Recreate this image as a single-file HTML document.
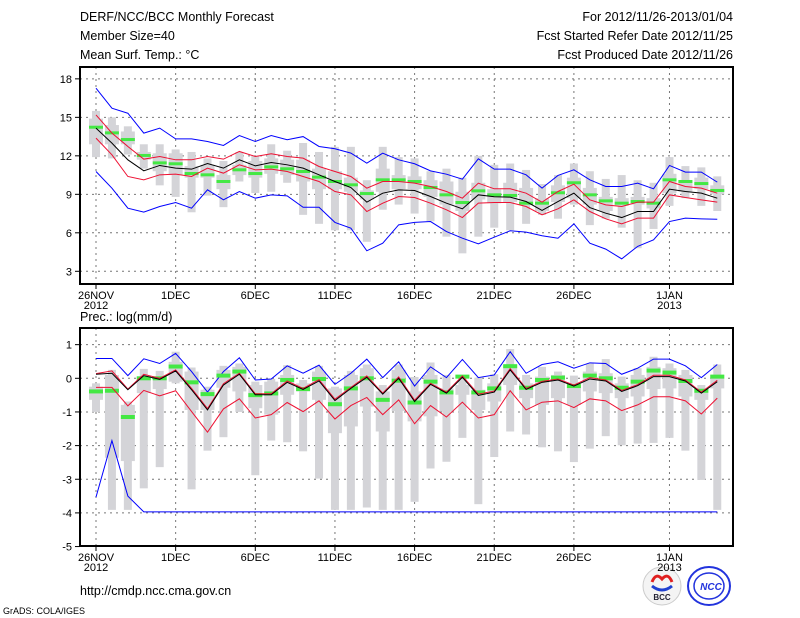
<!DOCTYPE html>
<html><head><meta charset="utf-8"><style>
body{margin:0;background:#fff;}
svg{display:block;font-family:"Liberation Sans",sans-serif;}
</style></head><body>
<svg id="c" width="800" height="618" xmlns="http://www.w3.org/2000/svg">
<g font-size="12.5" fill="#000">
<text x="80" y="21">DERF/NCC/BCC Monthly Forecast</text>
<text x="80" y="40">Member Size=40</text>
<text x="80" y="59">Mean Surf. Temp.: °C</text>
<text x="733" y="21" text-anchor="end">For 2012/11/26-2013/01/04</text>
<text x="733" y="40" text-anchor="end">Fcst Started Refer Date 2012/11/25</text>
<text x="733" y="59" text-anchor="end">Fcst Produced Date 2012/11/26</text>
</g>
<text x="80" y="321" font-size="12.5">Prec.: log(mm/d)</text>
<text x="80" y="595" font-size="12.5">http://cmdp.ncc.cma.gov.cn</text>
<text x="3" y="614" font-size="9">GrADS: COLA/IGES</text>
<g>
<circle cx="662" cy="586" r="19" fill="#f4f4f4" stroke="#ccc"/>
<path d="M652 582 q4 -10 10 -3 q6 -7 10 3" fill="none" stroke="#e02020" stroke-width="3"/>
<path d="M652 586 q10 8 20 0" fill="none" stroke="#2040d0" stroke-width="3"/>
<text x="662" y="600" font-size="8" font-weight="bold" text-anchor="middle" fill="#223">BCC</text>
</g>
<g>
<ellipse cx="709" cy="586" rx="21" ry="19" fill="none" stroke="#2233dd" stroke-width="2"/>
<ellipse cx="709" cy="586" rx="15" ry="13" fill="none" stroke="#2233dd" stroke-width="1.5"/>
<text x="711" y="590" font-size="10" font-weight="bold" font-style="italic" text-anchor="middle" fill="#2233dd">NCC</text>
</g>
<g id="top"></g>
<g id="bot"></g>
</svg>
<script>
const days = 40;
const xTickDays = [0,5,10,15,20,25,30,36];
const xTickLabels = ["26NOV","1DEC","6DEC","11DEC","16DEC","21DEC","26DEC","1JAN"];
const xTickYears = {0:"2012",36:"2013"};
const tTicks = [3,6,9,12,15,18];
const pTicks = [-5,-4,-3,-2,-1,0,1];
// Temperature series
const tBlueHi = [17.27,15.71,15.32,13.77,14.16,13.32,13.32,13.12,12.81,13.58,13.12,13.58,13.25,13.5,12.73,12.55,12.21,11.43,12.21,11.69,11.38,10.83,10.57,10.18,11.77,10.96,10.96,10.52,9.48,10.47,10.91,10.13,9.61,9.61,9.87,9.43,11.25,10.73,10.73,9.95];
const tBlueLo = [10.78,9.48,7.92,7.61,8.05,8.36,7.92,9.35,8.57,9.22,8.70,8.96,8.88,7.99,7.99,6.81,6.36,4.60,5.19,6.62,6.81,6.88,6.10,5.58,5.14,5.66,6.16,6.05,5.77,5.58,6.70,5.19,4.73,3.97,4.94,5.45,6.88,7.14,7.09,7.06];
const tRedHi = [15.19,13.77,12.73,11.74,11.95,11.69,11.69,11.95,11.74,12.34,11.95,12.16,11.95,11.82,11.17,10.78,10.39,9.48,10.0,10.0,9.87,9.61,9.22,8.70,9.87,9.43,9.43,9.09,8.39,9.22,9.79,8.57,8.18,8.05,8.39,8.39,10.0,9.61,9.48,9.09];
const tRedLo = [13.38,12.08,10.39,10.13,10.52,10.57,10.39,11.04,10.65,11.30,10.91,10.96,10.78,10.39,10.0,9.22,8.96,7.66,8.31,8.83,8.75,8.31,7.79,7.19,8.31,8.36,8.36,8.05,7.40,7.87,8.57,7.66,7.09,6.70,7.14,7.14,8.96,8.75,8.57,8.39];
const tMean = [14.16,12.99,11.69,10.83,11.25,11.04,10.96,11.40,11.04,11.69,11.22,11.48,11.30,11.04,10.52,10.0,9.53,8.39,9.09,9.35,9.30,8.83,8.31,7.87,8.96,8.81,8.78,8.44,7.74,8.44,9.09,7.97,7.53,7.19,7.66,7.66,9.40,9.22,9.09,8.70];
const tMedian = [14.23,13.79,13.27,12.03,11.45,11.38,10.62,10.52,10.0,10.91,10.62,11.14,10.99,10.78,10.34,10.0,9.74,9.06,10.13,10.13,10.0,9.53,8.96,8.36,9.27,8.96,8.91,8.31,8.31,9.12,9.90,8.96,8.49,8.31,8.44,8.31,10.13,10.0,9.84,9.30];
const tMax = [15.5,15.0,14.3,12.9,12.9,12.5,12.3,11.8,11.6,12.3,12.0,12.9,12.4,13.0,12.3,12.7,12.7,10.1,12.7,11.9,11.8,10.8,11.0,10.3,12.0,11.3,11.4,10.9,9.8,10.5,11.4,10.8,10.2,10.5,10.1,9.9,11.9,11.2,11.1,10.4];
const tQ3 = [14.9,14.4,13.9,12.3,12.2,12.2,11.2,11.3,10.5,11.3,11.6,11.8,11.7,11.7,11.0,10.8,10.3,9.3,11.0,10.5,10.4,10.1,10.0,9.2,9.9,9.4,9.9,9.5,8.7,9.7,10.3,9.5,8.8,8.7,8.8,8.7,10.6,10.1,10.3,9.7];
const tQ1 = [12.9,12.9,12.9,11.7,10.8,10.5,10.3,10.3,9.4,10.5,10.3,10.6,10.5,10.0,9.4,9.4,9.2,8.6,9.2,9.4,9.4,8.8,8.2,7.7,8.6,8.3,8.4,8.2,7.7,8.4,8.7,8.2,7.7,8.1,8.2,7.9,9.1,9.2,9.4,9.0];
const tMin = [11.9,11.8,12.1,11.0,9.7,8.8,7.6,8.9,8.0,10.0,9.1,9.2,9.9,7.4,6.7,6.2,6.2,5.3,7.8,8.2,7.5,6.9,5.7,4.4,5.7,6.4,6.2,6.7,7.4,7.1,8.2,6.6,7.1,6.4,4.8,6.3,8.1,8.7,8.1,7.7];
// Precipitation series
const pBlueHi = [0.59,0.59,0.08,0.58,0.44,0.74,0.20,-0.41,0.20,0.61,-0.05,-0.02,0.37,0.15,0.39,-0.18,0.15,0.57,0.02,0.49,-0.23,0.34,0.02,0.56,0.02,0.10,0.79,0.15,0.41,0.49,0.30,0.46,0.44,0.12,0.30,0.57,0.57,0.37,0.02,0.41];
const pBlueLo = [-3.53,-1.85,-3.50,-3.97,-3.97,-3.97,-3.97,-3.97,-3.97,-3.97,-3.97,-3.97,-3.97,-3.97,-3.97,-3.97,-3.97,-3.97,-3.97,-3.97,-3.97,-3.97,-3.97,-3.97,-3.97,-3.97,-3.97,-3.97,-3.97,-3.97,-3.97,-3.97,-3.97,-3.97,-3.97,-3.97,-3.97,-3.97,-3.97,-3.97];
const pMean = [0.12,0.15,-0.34,0.08,-0.03,0.22,-0.34,-0.94,-0.20,0.12,-0.49,-0.49,-0.12,-0.33,-0.08,-0.66,-0.30,0.03,-0.47,0.0,-0.69,-0.18,-0.44,0.03,-0.51,-0.41,0.25,-0.33,-0.12,-0.05,-0.23,-0.02,-0.08,-0.39,-0.22,0.05,0.05,-0.08,-0.44,-0.10];
const pRedHi = [0.14,0.22,-0.32,0.12,0.0,0.25,-0.30,-0.90,-0.16,0.15,-0.46,-0.46,-0.08,-0.30,-0.04,-0.62,-0.27,0.07,-0.44,0.04,-0.65,-0.15,-0.41,0.07,-0.47,-0.38,0.29,-0.30,-0.09,-0.02,-0.20,0.02,-0.05,-0.36,-0.19,0.09,0.09,-0.05,-0.41,-0.06];
const pRedLo = [-0.27,-0.27,-0.82,-0.36,-0.52,-0.37,-0.99,-1.60,-0.91,-0.61,-1.18,-1.08,-0.72,-0.99,-0.67,-1.21,-0.81,-0.57,-1.08,-0.64,-1.35,-0.81,-1.15,-0.71,-1.18,-1.08,-0.37,-0.94,-0.71,-0.67,-0.87,-0.61,-0.67,-0.96,-0.79,-0.55,-0.55,-0.67,-1.06,-0.59];
const pMedian = [-0.39,-0.37,-1.15,0.0,0.0,0.35,-0.12,-0.47,0.08,0.20,-0.50,-0.45,-0.05,-0.32,-0.02,-0.77,-0.30,0.0,-0.64,-0.07,-0.72,-0.10,-0.42,0.05,-0.42,-0.30,0.36,-0.28,-0.05,0.02,-0.23,0.08,0.0,-0.28,-0.10,0.23,0.17,-0.08,-0.37,0.05];
const pMax = [-0.15,0.25,-0.69,0.28,0.22,0.79,0.32,-0.25,0.37,0.44,-0.1,-0.02,0.39,-0.05,0.37,-0.25,0.22,0.41,-0.2,0.41,0.04,0.47,0.1,0,0.02,0.12,0.87,0.1,0.34,0.2,0.08,0.44,0.57,0.05,0.3,0.64,0.44,0.25,-0.2,0.41];
const pQ3 = [-0.25,0.1,-0.79,0.05,0,0.49,0.2,-0.34,0.25,0.34,-0.2,-0.1,0.1,-0.15,0.2,-0.3,0.1,0.3,-0.39,0.25,-0.39,0.1,-0.3,-0.2,-0.34,-0.15,0.39,-0.15,0.05,0.1,-0.25,0.2,0.15,-0.15,0.1,0.34,0.3,0.1,-0.3,0.1];
const pQ1 = [-0.64,-2.36,-2.46,-0.44,-0.32,-0.1,-0.94,-0.94,-0.28,-0.39,-0.89,-1.08,-0.49,-0.39,-0.64,-1.63,-1.43,-0.84,-1.58,-0.97,-1.28,-1.13,-0.99,-0.49,-0.94,-0.69,-0.2,-0.59,-0.79,-0.59,-0.79,-0.39,-0.44,-0.59,-0.54,-0.32,-0.3,-0.54,-0.64,-0.3];
const pMin = [-1.0,-3.91,-3.91,-3.27,-2.64,-0.15,-3.30,-2.15,-1.75,-1.0,-2.88,-1.85,-1.90,-2.17,-2.98,-3.91,-3.91,-3.84,-3.91,-3.91,-3.67,-2.68,-2.48,-1.77,-3.74,-2.34,-1.58,-1.67,-2.05,-2.17,-2.49,-2.09,-1.72,-1.99,-1.94,-1.92,-1.77,-2.15,-3.02,-3.91];

const NS="http://www.w3.org/2000/svg";
function mk(parent,tag,attrs){const e=document.createElementNS(NS,tag);for(const k in attrs)e.setAttribute(k,attrs[k]);parent.appendChild(e);return e;}
const xS = d => 96 + 15.93*d;

function panel(g, top, bottom, vmin, vmax, ticks, S){
  const y = v => bottom - (v - vmin)/(vmax - vmin)*(bottom-top);
  const L=80,R=733;
  ticks.forEach(t=>{
    const ln=mk(g,'line',{x1:L,x2:R,y1:y(t),y2:y(t),stroke:'#777','stroke-width':1,'stroke-dasharray':'2,4'});
    
    
    mk(g,'line',{x1:L-5,x2:L,y1:y(t),y2:y(t),stroke:'#000'});
    const tx=mk(g,'text',{x:L-8,y:y(t)+4,'font-size':11,'text-anchor':'end'});
    tx.textContent=t;
    
    
  });
  xTickDays.forEach((d,i)=>{
    const ln=mk(g,'line',{x1:xS(d),x2:xS(d),y1:top,y2:bottom,stroke:'#777','stroke-width':1,'stroke-dasharray':'2,4'});
    
    
    mk(g,'line',{x1:xS(d),x2:xS(d),y1:bottom,y2:bottom+5,stroke:'#000'});
    const tx=mk(g,'text',{x:xS(d),y:bottom+15,'font-size':11,'text-anchor':'middle'});
    tx.textContent=xTickLabels[i];
    
    
    if(xTickYears[d]){
      const ty=mk(g,'text',{x:xS(d),y:bottom+25,'font-size':11,'text-anchor':'middle'});
      ty.textContent=xTickYears[d];
      
      
    }
  });
  for(let d=0;d<days;d++){
    const x=xS(d);
    const r=mk(g,'rect',{x:x-4,y:y(S.max[d]),width:8,height:Math.max(1,y(S.min[d])-y(S.max[d])),fill:'#d4d4d8'});
    
    
    const b=mk(g,'rect',{x:x-7,y:y(S.q3[d]),width:14,height:Math.max(1,y(S.q1[d])-y(S.q3[d])),fill:'#d4d4d8'});
    
    
  }
  const line=(arr,col,name)=>{
    const p=mk(g,'polyline',{points:arr.map((v,d)=>xS(d)+','+y(v)).join(' '),fill:'none',stroke:col,'stroke-width':1});
    
    
  };
  line(S.bhi,'#0000ff','blue-upper-line');
  line(S.blo,'#0000ff','blue-lower-line');
  for(let d=0;d<days;d++){
    const m=mk(g,'rect',{x:xS(d)-7,y:y(S.med[d])-S.mh/2,width:14,height:S.mh,fill:'#44e844'});
    
    
  }
  line(S.rhi,'#ee1133','red-upper-line');
  line(S.rlo,'#ee1133','red-lower-line');
  line(S.mean,'#000','ensemble-mean-line');
  const f=mk(g,'rect',{x:L,y:top,width:R-L,height:bottom-top,fill:'none',stroke:'#000','stroke-width':2});
  
  
}
panel(document.getElementById('top'),67,284,3-(284-271.3)/12.83,3+(271.3-67)/12.83,tTicks,
 {max:tMax,q3:tQ3,q1:tQ1,min:tMin,bhi:tBlueHi,blo:tBlueLo,rhi:tRedHi,rlo:tRedLo,mean:tMean,med:tMedian,mh:3});
panel(document.getElementById('bot'),328,546,-(546-378.3)/33.65,(378.3-328)/33.65,pTicks,
 {max:pMax,q3:pQ3,q1:pQ1,min:pMin,bhi:pBlueHi,blo:pBlueLo,rhi:pRedHi,rlo:pRedLo,mean:pMean,med:pMedian,mh:4});
</script>
</body></html>
